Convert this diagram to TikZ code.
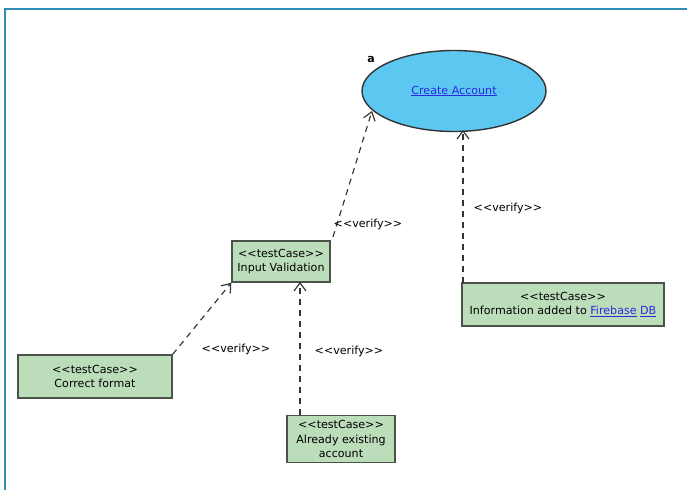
\documentclass[tikz,border=0pt]{standalone}
\usepackage{fontspec}
\setmainfont{DejaVu Sans}
\usetikzlibrary{arrows.meta,shapes.geometric}
\definecolor{framecol}{HTML}{2E8DB2}
\definecolor{usecasefill}{HTML}{5CC8F2}
\definecolor{tcfill}{HTML}{BCDDBA}
\definecolor{tcborder}{HTML}{4A524A}
\definecolor{linkcol}{HTML}{2A2ADC}
\newcommand{\linktext}[1]{\textcolor{linkcol}{\underline{#1}}}
\tikzset{
  x=1pt, y=-1pt,
  diagfont/.style={font=\fontsize{11.1}{14.5}\selectfont},
  testcase/.style={diagfont, draw=tcborder, line width=1.4pt, fill=tcfill, align=center,
    inner sep=0pt, anchor=center},
  usecase/.style={diagfont, ellipse, draw=black!80, line width=1.4pt, fill=usecasefill,
    minimum width=184pt, minimum height=81pt, inner sep=0pt},
  verify/.style={draw=black!80, line width=1.15pt, dash pattern=on 6pt off 5pt,
    -{Straight Barb[length=8pt,width=12pt,line width=1.15pt]}},
  vlabel/.style={diagfont, inner sep=0pt}
}
\begin{document}
\begin{tikzpicture}
\useasboundingbox (0,0) rectangle (687,490);
% diagram frame
\draw[framecol, line width=2pt] (4.5,490) -- (4.5,9) -- (687,9);

% use case
\node[usecase] (create) at (454,91) {\linktext{Create Account}};
\node[font=\bfseries\fontsize{11}{12}\selectfont, inner sep=0pt] (alabel) at (371,59) {a};

% test cases
\node[testcase, minimum width=98pt, minimum height=41pt] (input) at (281,261.5)
  {<{}<testCase>{}>\\Input Validation};
\node[testcase, minimum width=202pt, minimum height=43pt] (info) at (563,304.5)
  {<{}<testCase>{}>\\Information added to \linktext{Firebase} \linktext{DB}};
\node[testcase, minimum width=154pt, minimum height=43pt] (correct) at (95,376.5)
  {<{}<testCase>{}>\\Correct format};
\node[testcase, minimum width=108pt, minimum height=47pt, text depth=0pt] (existing) at (341,439)
  {<{}<testCase>{}>\\Already existing\\account};

% verify dependencies
\coordinate (inTop) at (333,237);
\coordinate (ucLeft) at (372,111);
\draw[verify] (inTop) -- (ucLeft);
\coordinate (infoTop) at (463,283);
\coordinate (ucBottom) at (463,130);
\draw[verify] (infoTop) -- (ucBottom);
\draw[verify] (correct.north east) -- (input.south west);
\coordinate (exTop) at (300,415);
\coordinate (inBottom) at (300,282);
\draw[verify] (exTop) -- (inBottom);

% labels
\node[vlabel] (l1) at (368,224) {<{}<verify>{}>};
\node[vlabel] (l2) at (508,208) {<{}<verify>{}>};
\node[vlabel] (l3) at (236,349) {<{}<verify>{}>};
\node[vlabel] (l4) at (349,351) {<{}<verify>{}>};
\end{tikzpicture}
\end{document}
